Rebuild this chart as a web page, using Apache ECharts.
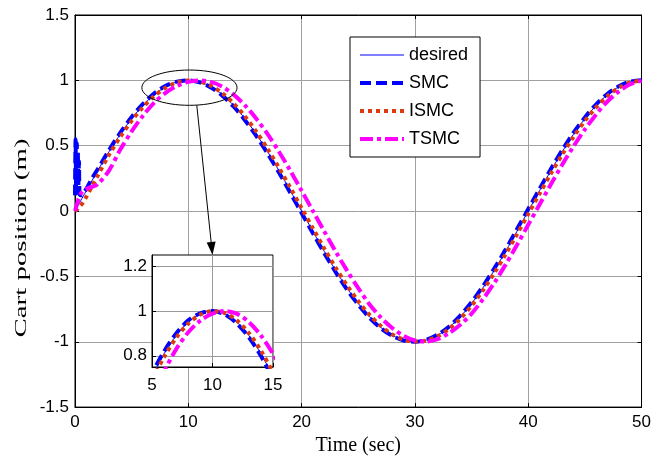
<!DOCTYPE html>
<html><head><meta charset="utf-8">
<script src="https://cdn.jsdelivr.net/npm/echarts@6/dist/echarts.min.js"></script>
<style>html,body{margin:0;padding:0;background:#fff}#c{width:654px;height:461px}</style>
</head><body><div id="c"></div>
<script>
// Time samples (sec)
const time = [0,0.05,0.1,0.15,0.2,0.25,0.3,0.35,0.4,0.5,0.7,1,1.5,2,3,4,5,6,7,8,9,10,11,12,13,14,15,16,17,18,19,20,21,22,23,24,25,26,27,28,29,30,31,32,33,34,35,36,37,38,39,40,41,42,43,44,45,46,47,48,49,50];
const desired = [0,0.008,0.016,0.024,0.031,0.039,0.047,0.055,0.063,0.079,0.11,0.156,0.233,0.309,0.454,0.588,0.707,0.809,0.891,0.951,0.988,1,0.988,0.951,0.891,0.809,0.707,0.588,0.454,0.309,0.156,0,-0.156,-0.309,-0.454,-0.588,-0.707,-0.809,-0.891,-0.951,-0.988,-1,-0.988,-0.951,-0.891,-0.809,-0.707,-0.588,-0.454,-0.309,-0.156,0,0.156,0.309,0.454,0.588,0.707,0.809,0.891,0.951,0.988,1];
const smc = [0.12,0.55,0.18,0.52,0.14,0.45,0.2,0.38,0.13,0.12,0.13,0.17,0.25,0.32,0.465,0.6,0.72,0.82,0.9,0.958,0.99,1.0,0.985,0.945,0.883,0.8,0.695,0.575,0.44,0.295,0.14,-0.015,-0.17,-0.322,-0.466,-0.6,-0.716,-0.817,-0.897,-0.955,-0.99,-1.0,-0.985,-0.946,-0.885,-0.8,-0.697,-0.576,-0.44,-0.295,-0.14,0.015,0.17,0.322,0.466,0.6,0.716,0.817,0.897,0.955,0.99,1.0];
const ismc = [0,0.003,0.006,0.01,0.014,0.018,0.023,0.028,0.033,0.043,0.065,0.11,0.19,0.27,0.43,0.568,0.69,0.795,0.88,0.944,0.984,0.999,0.991,0.958,0.902,0.823,0.724,0.607,0.475,0.331,0.179,0.023,-0.133,-0.287,-0.433,-0.568,-0.69,-0.795,-0.88,-0.944,-0.984,-0.999,-0.991,-0.958,-0.902,-0.823,-0.724,-0.607,-0.475,-0.331,-0.179,-0.023,0.133,0.287,0.433,0.568,0.69,0.795,0.88,0.944,0.984,0.999];
const tsmc = [0,0.015,0.03,0.045,0.06,0.075,0.09,0.1,0.11,0.13,0.155,0.17,0.185,0.205,0.31,0.47,0.61,0.73,0.83,0.905,0.957,0.988,1.0,0.988,0.951,0.891,0.809,0.707,0.588,0.454,0.309,0.156,0.0,-0.156,-0.309,-0.454,-0.59,-0.715,-0.815,-0.895,-0.955,-0.99,-0.998,-0.98,-0.935,-0.87,-0.785,-0.675,-0.55,-0.41,-0.26,-0.105,0.05,0.205,0.355,0.495,0.625,0.74,0.84,0.915,0.97,0.998];
const seriesNames = ['desired','SMC','ISMC','TSMC'];
const insetYTicks = [0.8, 1, 1.2];

const colors = ['#0000ff','#0000ff','#dd3a10','#ff00ff'];
const dashes = ['solid',[11,5],[4,4],[13,4,4,4]];
const widths = [1,4,4,4];
const values = [desired, smc, ismc, tsmc];
const pairs = v => time.map((t,i)=>[t, v[i]]);

const axisFont = {fontFamily:'Liberation Sans', fontSize:17, color:'#000'};
const series = [];
values.forEach((v,i)=>{
  series.push({name:seriesNames[i], type:'line', data:pairs(v), symbol:'none', showSymbol:false, smooth:0.3,
    xAxisIndex:0, yAxisIndex:0, z:2, clip:true,
    lineStyle:{color:colors[i], width:widths[i], type:dashes[i], cap:'butt'}, itemStyle:{color:colors[i]}});
});
values.forEach((v,i)=>{
  const s = {name:seriesNames[i]+' ', type:'line', data:pairs(v), symbol:'none', showSymbol:false, smooth:0.3,
    xAxisIndex:2, yAxisIndex:2, z:6, clip:true,
    lineStyle:{color:colors[i], width:widths[i], type:dashes[i], cap:'butt'}};
  if(i===0){
    s.markLine = {silent:true, symbol:'none', label:{show:false}, animation:false,
      lineStyle:{color:'#999', type:'solid', width:1}, data: insetYTicks.map(y=>({yAxis:y}))};
  }
  series.push(s);
});

const option = {
  animation:false,
  backgroundColor:'#fff',
  grid:[
    {left:75, right:10, top:15, bottom:52, show:true, borderColor:'#000', borderWidth:1, z:0},
    {left:152, top:255, width:121, height:112, show:true, backgroundColor:'#fff', borderColor:'#000', borderWidth:1, z:4}
  ],
  xAxis:[
    {gridIndex:0, type:'value', min:0, max:50, interval:10, position:'bottom',
     axisLine:{onZero:false, lineStyle:{color:'#000', width:1}}, axisTick:{inside:true, length:4, lineStyle:{color:'#000'}},
     axisLabel:{...axisFont, margin:7}, splitLine:{show:true, lineStyle:{color:'#a0a0a0', width:1}},
     name:'Time (sec)', nameLocation:'middle', nameGap:22,
     nameTextStyle:{fontFamily:'Liberation Serif', fontSize:20, color:'#000'}},
    {gridIndex:0, type:'value', min:0, max:50, interval:10, position:'top',
     axisLine:{onZero:false, lineStyle:{color:'#000'}}, axisTick:{inside:true, length:4, lineStyle:{color:'#000'}},
     axisLabel:{show:false}, splitLine:{show:false}},
    {gridIndex:1, type:'value', min:5, max:15, interval:5, z:5,
     axisLine:{onZero:false, lineStyle:{color:'#000'}}, axisTick:{inside:true, length:4, lineStyle:{color:'#000'}},
     axisLabel:{...axisFont, margin:10}, splitLine:{show:true, lineStyle:{color:'#999', width:1}}}
  ],
  yAxis:[
    {gridIndex:0, type:'value', min:-1.5, max:1.5, interval:0.5,
     axisLine:{show:true, onZero:false, lineStyle:{color:'#000'}}, axisTick:{show:true, inside:true, length:4, lineStyle:{color:'#000'}},
     axisLabel:{...axisFont, margin:6}, splitLine:{show:true, lineStyle:{color:'#a0a0a0', width:1}}},
    {gridIndex:0, type:'value', min:-1.5, max:1.5, interval:0.5, position:'right',
     axisLine:{show:true, onZero:false, lineStyle:{color:'#000'}}, axisTick:{show:true, inside:true, length:4, lineStyle:{color:'#000'}},
     axisLabel:{show:false}, splitLine:{show:false}},
    {gridIndex:1, type:'value', min:0.75, max:1.25, z:5,
     axisLine:{show:true, onZero:false, lineStyle:{color:'#000'}},
     axisTick:{show:true, inside:true, length:4, customValues:insetYTicks, lineStyle:{color:'#000'}},
     axisLabel:{...axisFont, margin:5, customValues:insetYTicks}, splitLine:{show:false}}
  ],
  legend:{
    data:seriesNames, orient:'vertical', left:350, top:37,
    backgroundColor:'#fff', borderColor:'#000', borderWidth:1, borderRadius:0,
    padding:[8,12,8,8], itemGap:8, itemWidth:44, itemHeight:20,
    lineStyle:{width:'inherit'},
    itemStyle:{opacity:0},
    textStyle:{fontFamily:'Liberation Sans', fontSize:18, color:'#000', lineHeight:20},
    selectedMode:false
  },
  series
};

const chart = echarts.init(document.getElementById('c'), null, {renderer:'canvas'});
chart.setOption(option);

// annotations: zoom ellipse, arrow, and y-axis title
const ec = chart.convertToPixel({gridIndex:0}, [10.1, 0.944]);
const ee = chart.convertToPixel({gridIndex:0}, [14.3, 0.809]);
const a0 = chart.convertToPixel({gridIndex:0}, [10.75, 0.808]);
const a1 = chart.convertToPixel({gridIndex:1}, [10, 1.25]);
const dx = a1[0]-a0[0], dy = a1[1]-a0[1], L = Math.hypot(dx,dy);
const ux = dx/L, uy = dy/L, hl = 13, hw = 4.5;
const bx = a1[0]-ux*hl, by = a1[1]-uy*hl;
chart.setOption({graphic:[
  {type:'ellipse', z:20, shape:{cx:ec[0], cy:ec[1], rx:ee[0]-ec[0], ry:ee[1]-ec[1]}, style:{fill:null, stroke:'#000', lineWidth:1}},
  {type:'line', z:20, shape:{x1:a0[0], y1:a0[1], x2:bx, y2:by}, style:{stroke:'#000', lineWidth:1}},
  {type:'polygon', z:20, shape:{points:[[a1[0],a1[1]],[bx-uy*hw, by+ux*hw],[bx+uy*hw, by-ux*hw]]}, style:{fill:'#000'}},
  {type:'text', z:20, x:22, y:238, rotation:Math.PI/2, scaleX:1.7,
   style:{text:'Cart position (m)', font:'17px "Liberation Serif"', fill:'#000', align:'center', verticalAlign:'middle'}}
]});
</script>
</body></html>
